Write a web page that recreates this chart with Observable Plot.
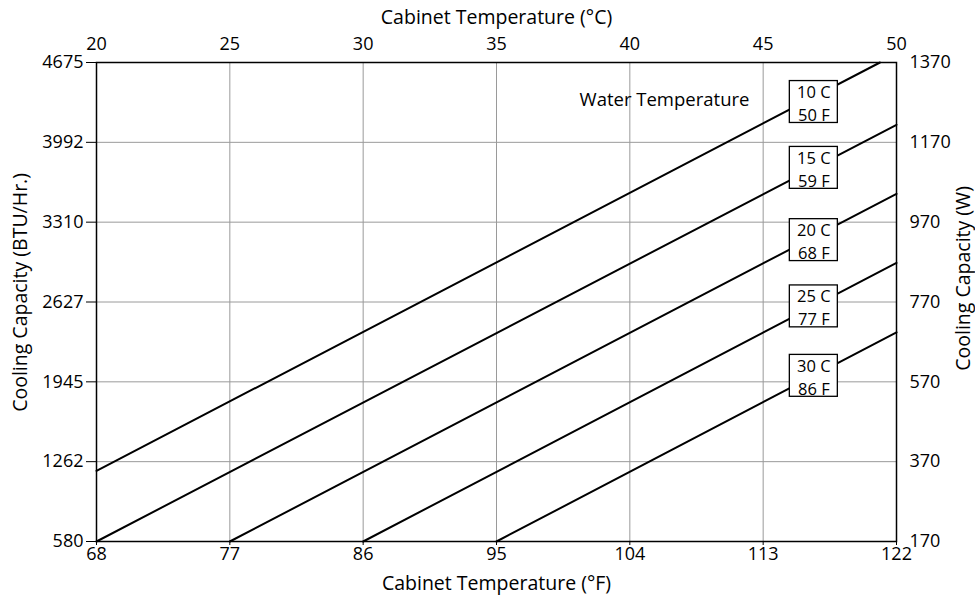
<!DOCTYPE html>
<html><head><meta charset="utf-8">
<script src="https://cdn.jsdelivr.net/npm/d3@7"></script>
<script src="https://cdn.jsdelivr.net/npm/@observablehq/plot@0.6"></script>
<style>
body{margin:0;background:#fff}
svg{font-family:"Open Sans",sans-serif}
svg g[aria-label$="tick label"], svg g[aria-label$="tick label"] text{font-size:18px !important}
</style>
</head><body><div id="chart"></div>
<script>
const cTicks = [20, 25, 30, 35, 40, 45, 50];
const fTicks = [68, 77, 86, 95, 104, 113, 122];
const wTicks = [170, 370, 570, 770, 970, 1170, 1370];
const btuTicks = [580, 1262, 1945, 2627, 3310, 3992, 4675];
const waterC = [10, 15, 20, 25, 30];
const waterF = [50, 59, 68, 77, 86];
const startC = [20, 20, 25, 30, 35];
const startW = [347, 170, 170, 170, 170];
const endC = [49.38, 50, 50, 50, 50];
const endW = [1370, 1214, 1041, 868, 694];
const labelC = [46.9, 46.9, 46.9, 46.9, 46.9];
const labelW = [1271, 1106, 925, 759, 585];
const noteText = ["Water Temperature"];
const noteC = [41.3];
const noteW = [1275];
const titleTop = "Cabinet Temperature (°C)";
const titleBottom = "Cabinet Temperature (°F)";
const titleLeft = "Cooling Capacity (BTU/Hr.)";
const titleRight = "Cooling Capacity (W)";

const idx = waterC.map((_, i) => i);
const pts = idx.flatMap(i => [
  {s: i, c: startC[i], w: startW[i]},
  {s: i, c: endC[i], w: endW[i]}
]);
const boxHalfC = 0.9, boxHalfW = 52.5;
const TICK = 18, TITLE = 19.5;

const chart = Plot.plot({
  width: 975, height: 597,
  marginLeft: 96, marginRight: 79, marginTop: 62, marginBottom: 56,
  style: {fontSize: "18px", color: "#000", fontFamily: "'Open Sans', sans-serif", overflow: "visible"},
  x: {domain: [20, 50]},
  y: {domain: [170, 1370]},
  marks: [
    Plot.gridX(cTicks.slice(1, -1), {stroke: "#9a9a9a", strokeOpacity: 1, strokeWidth: 1}),
    Plot.gridY(wTicks.slice(1, -1), {stroke: "#9a9a9a", strokeOpacity: 1, strokeWidth: 1}),
    Plot.line(pts, {x: "c", y: "w", z: "s", stroke: "#000", strokeWidth: 2}),
    Plot.rect(idx, {x1: i => labelC[i] - boxHalfC, x2: i => labelC[i] + boxHalfC,
      y1: i => labelW[i] - boxHalfW, y2: i => labelW[i] + boxHalfW,
      fill: "#fff", stroke: "#000", strokeWidth: 1.3}),
    Plot.text(idx, {x: i => labelC[i], y: i => labelW[i],
      text: i => `${waterC[i]} C\n${waterF[i]} F`, fontSize: 16.5, lineHeight: 1.4, fill: "#000"}),
    Plot.text(noteText, {x: () => noteC[0], y: () => noteW[0], text: d => d, fontSize: 18.5, fill: "#000"}),
    Plot.axisX(cTicks, {anchor: "top", tickSize: 0, tickPadding: 13, fontSize: TICK, label: null,
      tickFormat: d => String(d)}),
    Plot.axisX(cTicks, {anchor: "bottom", tickSize: 4, tickPadding: 2, fontSize: TICK, label: null,
      tickFormat: d => String(fTicks[cTicks.indexOf(d)])}),
    Plot.axisY(wTicks, {anchor: "left", tickSize: 10, tickPadding: 3, fontSize: TICK, label: null,
      tickFormat: d => String(btuTicks[wTicks.indexOf(d)])}),
    Plot.axisY(wTicks, {anchor: "right", tickSize: 0, tickPadding: 13, fontSize: TICK, label: null,
      tickFormat: d => String(d)}),
    Plot.text([titleTop], {frameAnchor: "top", lineAnchor: "middle", dy: -45, fontSize: TITLE, fill: "#000"}),
    Plot.text([titleBottom], {frameAnchor: "bottom", lineAnchor: "middle", dy: 42, fontSize: TITLE, fill: "#000"}),
    Plot.text([titleLeft], {x: () => 17.15, y: () => 794, rotate: -90, lineAnchor: "middle", fontSize: TITLE, fill: "#000"}),
    Plot.text([titleRight], {x: () => 52.51, y: () => 829, rotate: -90, lineAnchor: "middle", fontSize: TITLE, fill: "#000"}),
    Plot.frame({stroke: "#000", strokeWidth: 1.5})
  ]
});
document.getElementById("chart").appendChild(chart);
</script>
</body></html>
